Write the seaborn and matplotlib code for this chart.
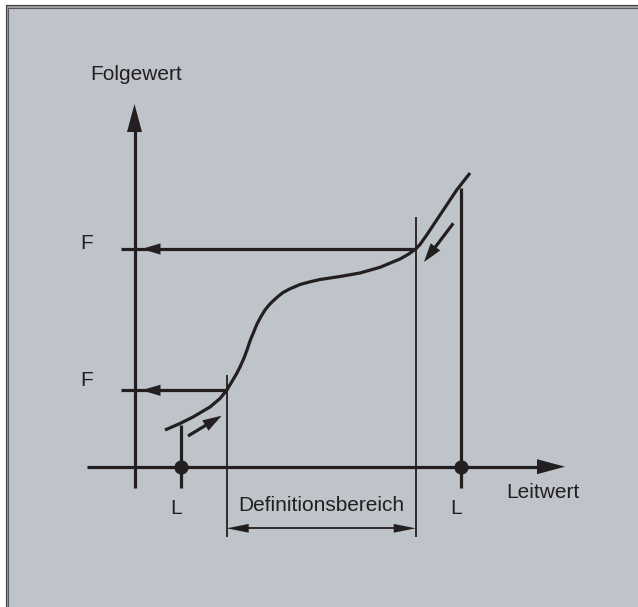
import numpy as np
import matplotlib
matplotlib.use("Agg")
import matplotlib.pyplot as plt
from matplotlib.patches import Rectangle
import seaborn as sns

# Characteristic curve: Folgewert as a function of Leitwert
leitwert = [30.5, 45.5, 58.5, 75.5, 85.5, 92.2, 102.2, 105.5, 109.5, 112.5,
            115.5, 119.0, 122.5, 126.5, 130.5, 134.5, 138.5, 143.5, 148.5,
            155.5, 165.5, 175.5, 185.5, 205.5, 225.5, 245.5, 265.5, 273.5,
            281.2, 285.5, 292.2, 302.2, 312.2, 322.2, 335.5]
folgewert = [36.7, 43.2, 49.7, 59.7, 68.2, 76.4, 93.2, 99.7, 108.7, 116.7,
             125.7, 134.2, 142.7, 150.2, 156.7, 161.7, 165.7, 170.2, 174.2,
             177.9, 182.2, 184.9, 187.2, 190.2, 193.7, 199.4, 207.7, 212.2,
             217.7, 222.2, 231.7, 246.7, 261.7, 276.7, 293.7]

# Definitionsbereich (range of validity) of the table
def_range = [92.2, 281.2]
# Folgewert read back at the range limits
f_values = [76.4, 217.7]
# Leitwert inputs lying outside the range, and the curve height above them
l_values = [46.5, 326.5]
l_heights = [41.7, 278.7]

axis_labels = ["Leitwert", "Folgewert"]
range_label = "Definitionsbereich"
f_label = "F"
l_label = "L"

ink = "#231f20"
panel = "#bfc3ca"
thick = 2.3
thin = 1.3

sns.set_theme(style="white")
plt.rcParams["font.family"] = ["Liberation Sans", "DejaVu Sans"]

fig = plt.figure(figsize=(6.38, 6.07), dpi=100, facecolor="white")
ax = fig.add_axes([0, 0, 1, 1])
ax.set_xlim(-134.5, 503.5)
ax.set_ylim(-140.3, 466.7)
ax.axis("off")

# grey panel with its double rule
ax.add_patch(Rectangle((-127.5, -160), 700, 620.7, facecolor=panel,
                       edgecolor="#a0a0a0", lw=2.2, zorder=0))
ax.add_patch(Rectangle((-128.5, -160), 700, 622.2, facecolor="none",
                       edgecolor="#3c3c3c", lw=0.8, zorder=0.5))
ax.add_patch(Rectangle((-126.5, -160), 700, 619.2, facecolor="none",
                       edgecolor="#5a5a5a", lw=0.8, zorder=0.5))


def seg(x, y, lw):
    sns.lineplot(x=x, y=y, sort=False, estimator=None, color=ink, lw=lw,
                 solid_capstyle="butt", ax=ax, zorder=3)


def head(tip, tail, length, half):
    tip = np.asarray(tip, float)
    d = tip - np.asarray(tail, float)
    d /= np.hypot(*d)
    n = np.array([-d[1], d[0]])
    base = tip - d * length
    pts = np.array([tip, base + n * half, base - n * half])
    ax.fill(pts[:, 0], pts[:, 1], color=ink, lw=0, zorder=4)
    return base, d


def arrow(tail, tip, lw, length, half):
    base, d = head(tip, tail, length, half)
    end = base + d * 3.0
    seg([tail[0], end[0]], [tail[1], end[1]], lw)


# coordinate axes
arrow((-47.8, 0), (430.5, 0), thick, 28, 7.5)
arrow((0, -21.3), (0, 362.7), thick, 28, 7.5)

# the characteristic
sns.lineplot(x=leitwert, y=folgewert, sort=False, estimator=None, color=ink,
             lw=thick, solid_capstyle="butt", solid_joinstyle="round",
             ax=ax, zorder=3)

# range limits and the dimension arrow below the axis
for xr, top in zip(def_range, [91.7, 250.0]):
    seg([xr, xr], [top, -70.0], thin)
mid = 0.5 * (def_range[0] + def_range[1])
arrow((mid, -61.6), (def_range[0], -61.6), thin, 22, 4.4)
arrow((mid, -61.6), (def_range[1], -61.6), thin, 22, 4.4)

# F read back onto the Folgewert axis
for xr, fv in zip(def_range, f_values):
    seg([-13.5, xr], [fv, fv], thick)
    head((7.0, fv), (xr, fv), 19, 5.6)

# L inputs outside the range
for lv, lh in zip(l_values, l_heights):
    seg([lv, lv], [lh, -21.3], thick)
sns.scatterplot(x=l_values, y=[0, 0], s=105, color=ink, edgecolor=ink,
                linewidth=0, ax=ax, zorder=5)

# direction arrows beside the curve
arrow((53.5, 30.7), (87.2, 51.0), thick, 19, 6.0)
arrow((318.8, 243.4), (289.5, 204.7), thick, 19, 6.0)

# text
fs = 15
ax.text(-44.0, 386.7, axis_labels[1], fontsize=fs, color=ink, va="baseline")
ax.text(372.0, -31.6, axis_labels[0], fontsize=fs, color=ink, va="baseline")
ax.text(103.3, -44.0, range_label, fontsize=fs, color=ink, va="baseline")
ax.text(-54.0, 217.4, f_label, fontsize=fs, color=ink, va="baseline")
ax.text(-54.0, 80.7, f_label, fontsize=fs, color=ink, va="baseline")
for lv in l_values:
    ax.text(lv - 11.0, -47.3, l_label, fontsize=fs, color=ink, va="baseline")

fig.savefig("out.png", dpi=100, facecolor="white")
